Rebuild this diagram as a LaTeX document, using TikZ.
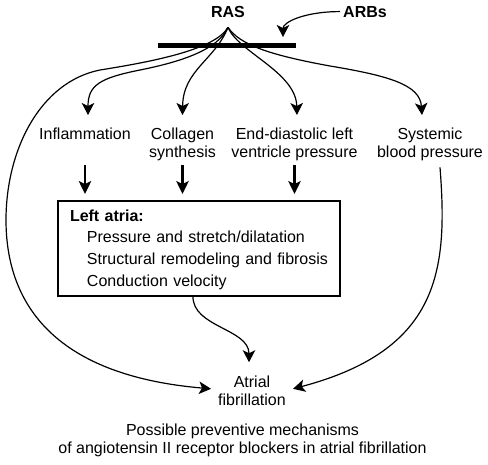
\documentclass[tikz,border=0pt]{standalone}
\usepackage{fontspec}
\setmainfont{Liberation Sans}
\usetikzlibrary{arrows.meta}

\begin{document}
\begin{tikzpicture}[x=1pt,y=-1pt]
  \tikzset{LabelStyle/.style = {
    align         = center,
    inner sep     = 0pt,
    anchor        = north,
    text          = black,
    font          = \fontsize{16}{18}\selectfont
    }
  }
  \tikzset{HeadStyle/.style = {
    inner sep     = 3pt,
    anchor        = base,
    font          = \fontsize{16}{18}\selectfont\bfseries
    }
  }
  \tikzset{BoxStyle/.style = {
    shape         = rectangle,
    draw          = black,
    line width    = 2.3pt,
    align         = left,
    text width    = 258pt,
    inner xsep    = 12pt,
    inner ysep    = 0pt,
    outer sep     = 0pt,
    minimum width = 282pt,
    minimum height= 95pt,
    anchor        = north west,
    font          = \fontsize{16}{21.7}\selectfont
    }
  }
  \tikzset{FlowStyle/.style = {
    draw          = black,
    line width    = 1.2pt,
    -{Stealth[length=12pt,width=12.5pt,inset=3pt]}
    }
  }
  \tikzset{DownStyle/.style = {
    draw          = black,
    line width    = 2.2pt,
    -{Stealth[length=13pt,width=12.5pt,inset=3pt]}
    }
  }
  \useasboundingbox (0,0) rectangle (488,464);

  % top: RAS and its blocker
  \node[HeadStyle](ras) at (228,17) {RAS};
  \node[HeadStyle](arbs) at (365,17) {ARBs};
  \coordinate (fan) at ([yshift=-7pt]ras.south);
  \coordinate (barL) at (158,45.5);
  \coordinate (barR) at (296,45.5);

  % middle row
  \node[LabelStyle](infl) at (85,127.5) {Inflammation};
  \node[LabelStyle](coll) at (182.5,127.5) {Collagen\\synthesis};
  \node[LabelStyle](edlv) at (294.5,127.5) {End-diastolic left\\ventricle pressure};
  \node[LabelStyle](sbp) at (430,127.5) {Systemic\\blood pressure};

  \node[BoxStyle](latria) at (58,201) {\rule{0pt}{14pt}\textbf{Left atria:}\\
    \hspace*{17pt}Pressure and stretch/dilatation\\
    \hspace*{17pt}Structural remodeling and fibrosis\\
    \hspace*{17pt}Conduction velocity};

  \node[LabelStyle, anchor=center, inner sep=7pt](af) at (252,390.8) {Atrial\\fibrillation};
  \node[LabelStyle](caption) at (242.5,423.5) {Possible preventive mechanisms\\of angiotensin II receptor blockers in atrial fibrillation};

  % fan of effects from RAS
  \draw[FlowStyle](fan) .. controls (215,50) and (150,62) .. (100,70)
    .. controls (40,82) and (6,150) .. (6,220)
    .. controls (6,300) and (50,375) .. ([yshift=2pt]af.west);
  \draw[FlowStyle](fan) .. controls (218,50) and (180,62) .. (140,70)
    .. controls (100,78) and (88,85) .. ([xshift=3pt,yshift=12.5pt]infl.north);
  \draw[FlowStyle](fan) .. controls (215,60) and (183,70) .. ([yshift=12.5pt]coll.north);
  \draw[FlowStyle](fan) .. controls (238,52) and (296,72) .. ([xshift=2.5pt,yshift=12.5pt]edlv.north);
  \draw[FlowStyle](fan) .. controls (240,45) and (270,55) .. (330,66)
    .. controls (390,76) and (420,85) .. ([xshift=-8pt,yshift=12.5pt]sbp.north);
  \draw[line width=5pt](barL) -- (barR);
  \draw[FlowStyle](arbs.west) .. controls +(-35,0) and +(0,-15) .. ([xshift=-13pt,yshift=8.5pt]barR);

  % into the left atria box
  \foreach \n in {infl,coll,edlv}
    \draw[DownStyle, shorten >=7pt](\n.south |- latria.north) ++(0,-36) -- (\n.south |- latria.north);

  % towards atrial fibrillation
  \draw[FlowStyle, shorten >=6.5pt]([xshift=-6pt]latria.south) .. controls +(-1,31) and +(0,-40) .. ([xshift=-3pt]af.north);
  \draw[FlowStyle]([xshift=10pt,yshift=-6.5pt]sbp.south) .. controls (448,270) and (440,350) .. ([yshift=2pt]af.east);
\end{tikzpicture}
\end{document}
